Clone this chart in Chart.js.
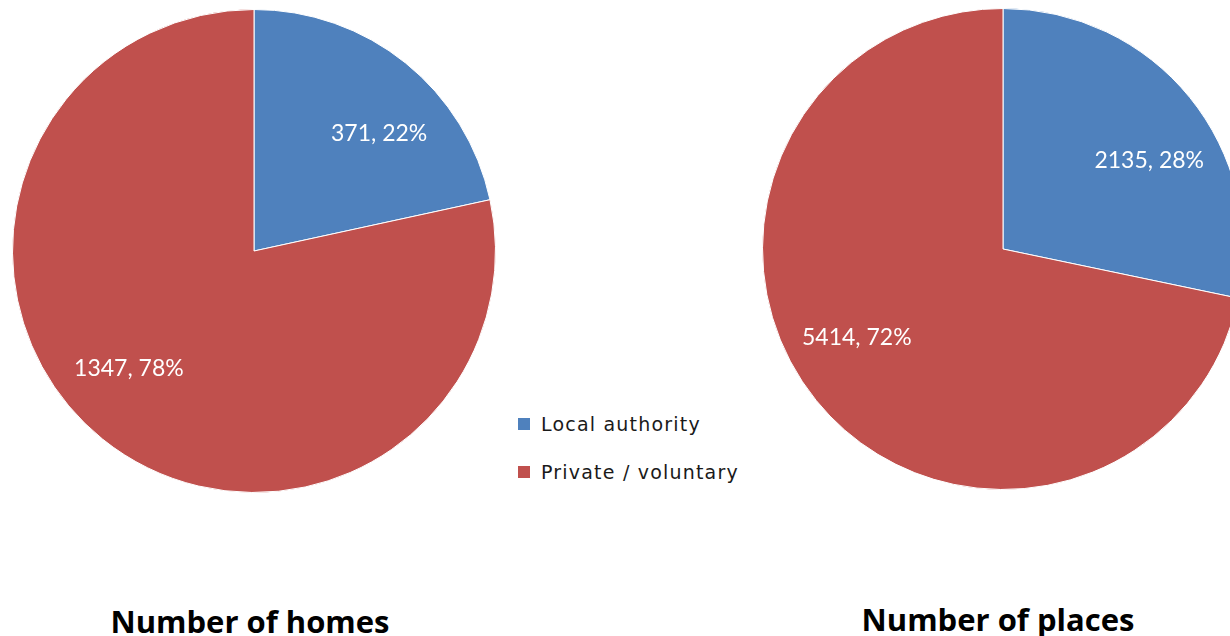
<!DOCTYPE html>
<html>
<head>
<meta charset="utf-8">
<script src="https://cdn.jsdelivr.net/npm/chart.js@4/dist/chart.umd.min.js"></script>
<style>
  html, body { margin: 0; padding: 0; background: #fff; width: 1230px; height: 636px; overflow: hidden; position: relative; }
  .pie { position: absolute; }
  .title { position: absolute; font-family: 'Open Sans', Lato, sans-serif; font-weight: bold; font-size: 31px; color: #000; transform: translate(-50%, -50%); white-space: nowrap; }
  #legend { position: absolute; left: 518px; top: 409px; font-family: 'DejaVu Sans', Verdana, sans-serif; font-size: 19px; color: #1a1a1a; letter-spacing: 1.2px; }
  .leg-row { display: flex; align-items: center; height: 30px; margin-bottom: 18px; }
  .leg-box { width: 12px; height: 12px; margin-right: 11px; }
</style>
</head>
<body>
<div class="pie" style="left:12px;top:9px;width:484px;height:484px"><canvas id="homes"></canvas></div>
<div class="pie" style="left:762px;top:8px;width:482px;height:482px"><canvas id="places"></canvas></div>
<div id="legend"></div>
<div class="title" style="left:250px;top:621px">Number of homes</div>
<div class="title" style="left:998px;top:619px">Number of places</div>
<script>
const categories = ['Local authority', 'Private / voluntary']
const homes = [371, 1347]
const places = [2135, 5414]
const colors = ['#4F81BD', '#C0504D']

// value + percentage labels inside each slice
const sliceLabels = {
  id: 'sliceLabels',
  afterDatasetsDraw(chart) {
    const ctx = chart.ctx
    const data = chart.data.datasets[0].data
    const total = data.reduce((s, v) => s + v, 0)
    const shift = 8 * Math.PI / 180
    chart.getDatasetMeta(0).data.forEach((arc, i) => {
      const p = arc.getProps(['x', 'y', 'startAngle', 'endAngle', 'outerRadius'], true)
      const mid = (p.startAngle + p.endAngle) / 2 + shift
      const d = p.outerRadius * 0.71
      ctx.save()
      ctx.fillStyle = '#fff'
      ctx.font = "23px Lato, 'Open Sans', sans-serif"
      ctx.textAlign = 'center'
      ctx.textBaseline = 'middle'
      ctx.fillText(`${data[i]}, ${Math.round(data[i] / total * 100)}%`, p.x + Math.cos(mid) * d, p.y + Math.sin(mid) * d)
      ctx.restore()
    })
  },
}

function makePie(id, values) {
  new Chart(document.getElementById(id), {
    type: 'pie',
    data: {
      labels: categories,
      datasets: [{ data: values, backgroundColor: colors, borderColor: '#fff', borderWidth: 1 }],
    },
    options: {
      responsive: true,
      maintainAspectRatio: false,
      animation: false,
      layout: { padding: 0 },
      plugins: { legend: { display: false }, tooltip: { enabled: false } },
    },
    plugins: [sliceLabels],
  })
}

makePie('homes', homes)
makePie('places', places)

document.getElementById('legend').innerHTML = categories.map((c, i) =>
  `<div class="leg-row"><div class="leg-box" style="background:${colors[i]}"></div><span>${c}</span></div>`).join('')
</script>
</body>
</html>
